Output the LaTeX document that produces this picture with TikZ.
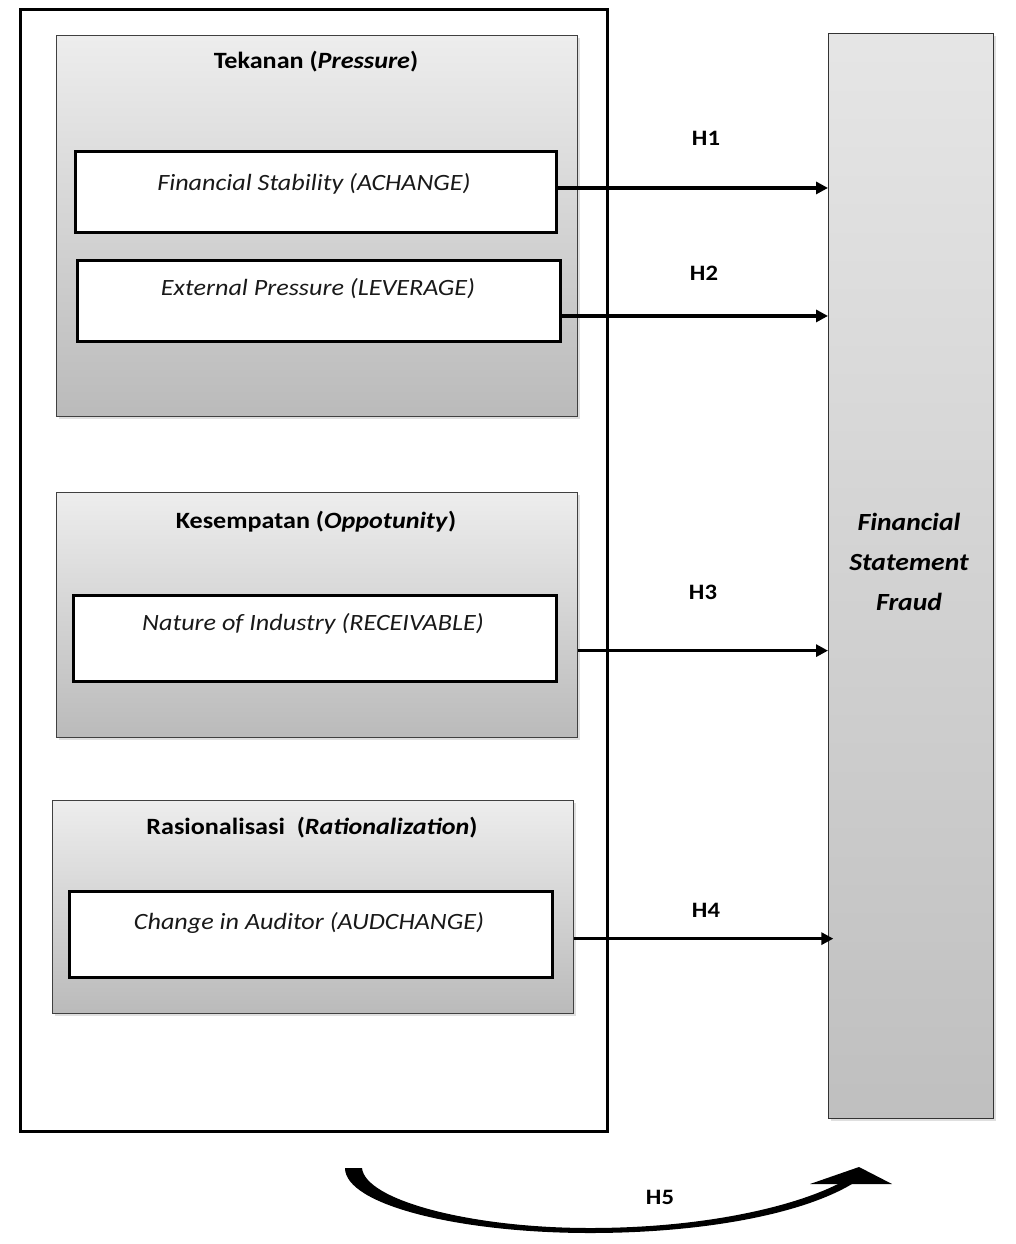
\documentclass[tikz,border=0pt]{standalone}
\usepackage{fontspec}
\setmainfont{Carlito}[FakeStretch=1.12]
\usetikzlibrary{arrows.meta,shadows}
\begin{document}
\begin{tikzpicture}[x=0.75pt,y=-0.75pt,
  outerbox/.style={draw=black,line width=1.9pt,fill=white,anchor=north west,inner sep=0pt},
  groupbox/.style={draw=black!75,line width=1pt,top color=black!7,bottom color=black!27,
     anchor=north west,inner sep=0pt,drop shadow={shadow xshift=2pt,shadow yshift=-2pt,opacity=0.25}},
  varbox/.style={draw=black,line width=2.2pt,fill=white,anchor=north west,inner sep=0pt},
  fraudbox/.style={draw=black!80,line width=1pt,top color=black!10,bottom color=black!25,
     anchor=north west,inner sep=0pt,drop shadow={shadow xshift=2pt,shadow yshift=-2pt,opacity=0.25}},
  ttl/.style={font=\fontsize{17.5}{21}\selectfont\bfseries,inner sep=0pt},
  vtxt/.style={font=\fontsize{17.5}{21}\selectfont\itshape,text=black!90,inner sep=0pt},
  hlab/.style={font=\fontsize{16.5}{20}\selectfont\bfseries,inner sep=0pt},
  arr/.style={line width=2.5pt,-{Triangle[length=9pt,width=9pt]}}]
\useasboundingbox (0,0) rectangle (1015,1244);
% outer frame
\node[outerbox,minimum width=440.25pt,minimum height=841.5pt] (outer) at (19,8) {};
% groups
\node[groupbox,minimum width=390.75pt,minimum height=285.75pt] (g1) at (56,35) {};
\node[groupbox,minimum width=390.75pt,minimum height=183.75pt] (g2) at (56,492) {};
\node[groupbox,minimum width=390.75pt,minimum height=159.75pt] (g3) at (52,800) {};
\node[ttl] (t1) at (316,62) {Tekanan (\textit{Pressure})};
\node[ttl] (t2) at (316,522) {Kesempatan (\textit{Oppotunity})};
\node[ttl] (t3) at (312,828) {Rasionalisasi\ \ (\textit{Rationalization})};
% variable boxes
\node[varbox,minimum width=360.75pt,minimum height=60.75pt] (fs) at (74,150) {};
\node[varbox,minimum width=362.25pt,minimum height=60.75pt] (ep) at (76,259) {};
\node[varbox,minimum width=362.25pt,minimum height=64.5pt] (ni) at (72,594) {};
\node[varbox,minimum width=362.25pt,minimum height=64.5pt] (ca) at (68,890) {};
\node[vtxt] (fst) at (314,184) {Financial Stability (ACHANGE)};
\node[vtxt] (ept) at (318,289) {External Pressure (LEVERAGE)};
\node[vtxt] (nit) at (313,624) {Nature of Industry (RECEIVABLE)};
\node[vtxt] (cat) at (309,923) {Change in Auditor (AUDCHANGE)};
% dependent variable
\node[fraudbox,minimum width=123.75pt,minimum height=813.75pt] (fsf) at (828,33) {};
\node[font=\fontsize{18.5}{30}\selectfont\bfseries\itshape,align=center,inner sep=0pt] (fsft) at (909,562) {Financial\\Statement\\Fraud};
% arrows
\coordinate (s1) at ([yshift=3pt]fs.east);
\coordinate (s2) at ([yshift=-11.25pt]ep.east);
\coordinate (s3) at ([yshift=-26.6pt]g2.east);
\coordinate (s4) at ([yshift=-23.6pt]g3.east);
\draw[arr] (s1) -- (s1 -| fsf.west);
\draw[arr] (s2) -- (s2 -| fsf.west);
\draw[arr] (s3) -- (s3 -| fsf.west);
\draw[arr] (s4) -- ([xshift=4pt]s4 -| fsf.west);
\node[hlab] (h1) at (706,138) {H1};
\node[hlab] (h2) at (704,273) {H2};
\node[hlab] (h3) at (703,592) {H3};
\node[hlab] (h4) at (706,910) {H4};
% H5 curved arrow
\fill[black] (345,1168) .. controls (345,1205) and (460,1233) .. (590,1233)
   .. controls (700,1233) and (800,1215) .. (852,1184)
   -- (838,1184) .. controls (790,1208) and (700,1228) .. (590,1228)
   .. controls (470,1228) and (365,1200) .. (362,1168) -- cycle;
\fill[black] (810,1184) -- (859,1167) -- (892,1184) -- cycle;
\node[hlab] (h5) at (660,1197) {H5};
\end{tikzpicture}
\end{document}
